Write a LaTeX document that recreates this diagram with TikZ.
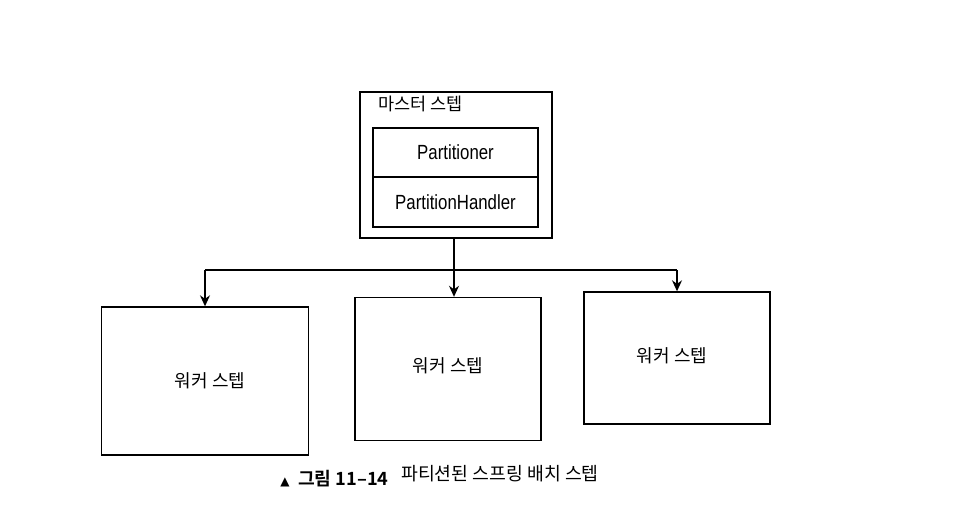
\documentclass[tikz,border=0pt]{standalone}
\usepackage{fontspec}
\setmainfont{Liberation Sans}
\newfontfamily\kr{Noto Sans CJK KR}
\newfontfamily\krb{Noto Sans CJK KR Bold}[BoldFont={Noto Sans CJK KR Bold}]
\newfontfamily\cond[FakeStretch=0.82]{Liberation Sans}
\newfontfamily\dv{DejaVu Sans}
\usetikzlibrary{arrows.meta}
\begin{document}
\begin{tikzpicture}[x=1pt,y=-1pt,
  box/.style={draw=black,line width=1.4pt,rectangle,inner sep=0pt},
  conn/.style={draw=black,line width=1.4pt},
  arr/.style={conn,-{Stealth[length=11pt,width=10pt]}},
  lbl/.style={font=\kr\fontsize{18}{20}\selectfont,inner sep=0pt},
  plbl/.style={font=\cond\fontsize{20.5}{22}\selectfont,inner sep=0pt}]
\useasboundingbox[fill=white] (0,0) rectangle (955,513);
% master step
\node[box,minimum width=192pt,minimum height=146pt] (master) at (456,165) {};
\node[lbl,anchor=west,font=\kr\fontsize{17.5}{20}\selectfont] (mlbl) at (378,104) {마스터 스텝};
\node[box,minimum width=165pt,minimum height=49pt] (part) at (455.5,152.5) {};
\node[plbl] (parttxt) at (part.center) {Partitioner};
\node[box,minimum width=165pt,minimum height=50pt] (handler) at (455.5,202) {};
\node[plbl] (handtxt) at (handler.center) {PartitionHandler};
% workers
\node[box,minimum width=207pt,minimum height=148pt] (w1) at (205,381) {};
\node[lbl] (w1t) at (210,381) {워커 스텝};
\node[box,minimum width=186pt,minimum height=143pt] (w2) at (448,369) {};
\node[lbl] (w2t) at (448,366) {워커 스텝};
\node[box,minimum width=186pt,minimum height=132pt] (w3) at (677,358) {};
\node[lbl] (w3t) at (672,356) {워커 스텝};
% connectors
\coordinate (j) at (454,270);
\coordinate (jl) at (w1.north |- j);
\coordinate (jr) at (w3.north |- j);
\coordinate (jm) at (j |- w2.north);
\draw[arr] (j |- master.south) -- (jm);
\draw[conn] (jl) -- (jr);
\draw[arr] (jl) -- (w1.north);
\draw[arr] (jr) -- (w3.north);
% caption
\node[inner sep=0pt,font=\dv\fontsize{12}{13}\selectfont] (tri) at (285,482) {▲};
\node[inner sep=0pt,anchor=west,font=\krb\fontsize{18.2}{20}\selectfont] (fig) at (298,479) {그림 11–14};
\node[inner sep=0pt,anchor=west,font=\kr\fontsize{18.3}{20}\selectfont] (cap) at (401,474) {파티션된 스프링 배치 스텝};
\end{tikzpicture}
\end{document}
